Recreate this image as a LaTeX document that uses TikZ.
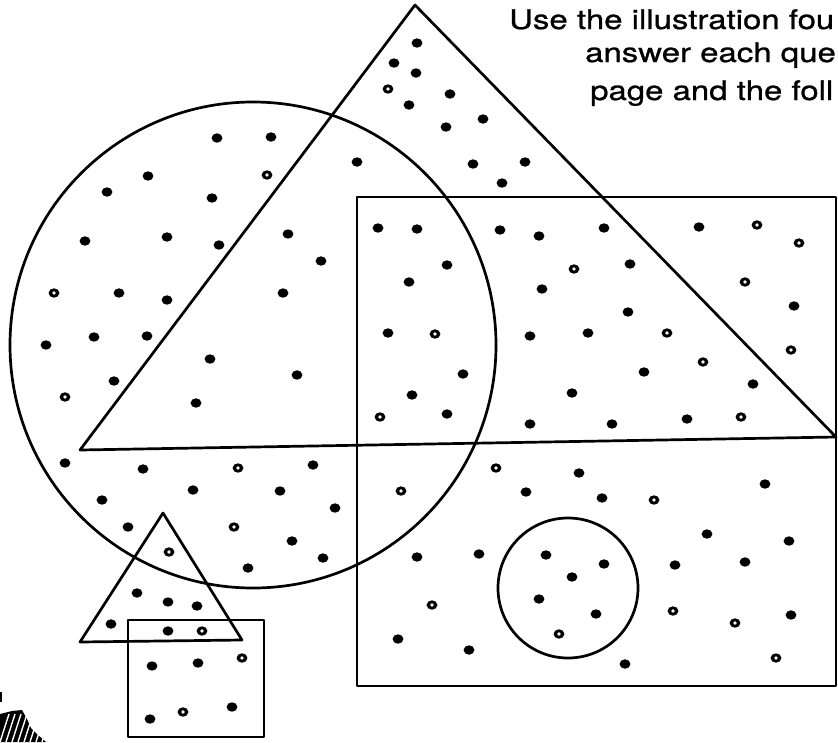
\documentclass[tikz,border=0pt]{standalone}
\usepackage{fontspec}
\setmainfont{TeX Gyre Heros}[FakeBold=0.8]
\usetikzlibrary{positioning}

\begin{document}
\begin{tikzpicture}[x=1pt, y=-1pt,
    outline/.style={draw=black, line width=2.7pt, line join=round},
    caption/.style={anchor=base west, inner sep=0pt, font=\fontsize{27}{30}\selectfont},
]
    \useasboundingbox (0,0) rectangle (838,742);
    \clip (0,0) rectangle (838,742);

    % Caption
    \node[caption] (line1) at (509,29) {\scalebox{1.22}[1]{Use the illustration fou}};
    \node[caption] (line2) at (585,62) {\scalebox{1.22}[1]{answer each que}};
    \node[caption] (line3) at (590,100) {\scalebox{1.22}[1]{page and the foll}};

    % Big shapes
    \coordinate (apex) at (415,5);
    \coordinate (baseL) at (80,450);
    \coordinate (baseR) at (836,437);
    \draw[outline] (apex) -- (baseL) -- (baseR) -- cycle;
    \draw[outline] (253,345) circle[radius=243pt];
    \draw[outline] (357,197) rectangle (836,686);
    \draw[outline] (568,588) circle[radius=70pt];

    % Small shapes
    \coordinate (sapex) at (163,513);
    \coordinate (sL) at (80,642);
    \coordinate (sR) at (242,640);
    \draw[outline] (sapex) -- (sL) -- (sR) -- cycle;
    \draw[outline] (128,620) rectangle (264,737);

    % Dots
    \foreach \x/\y in {417/43, 394/63, 416/73, 409/105, 450/94, 446/127, 483/119, 473/164, 525/162, 502/183,
        217/138, 271/137, 148/176, 357/162, 107/192, 212/198, 85/241, 167/237, 219/245, 288/234,
        378/228, 417/229, 500/230, 539/236, 604/228, 699/227,
        321/261, 409/282, 119/293, 167/300, 283/293, 46/345, 94/337, 147/336, 388/333, 210/359,
        297/375, 114/381, 196/403, 412/395,
        447/265, 630/264, 542/289, 794/306, 628/312, 530/336, 588/333, 463/374, 644/372, 572/393,
        753/384, 447/414, 530/424, 612/424, 687/419,
        65/463, 143/469, 313/465, 102/500, 193/490, 280/491, 335/508, 128/527, 292/541, 323/558,
        248/568, 417/557, 137/593, 168/602, 197/606, 111/624, 168/631, 152/666, 198/663, 398/639,
        150/719, 232/707,
        579/473, 526/492, 602/498, 765/484, 707/534, 789/541, 479/554, 546/555, 604/564, 572/577,
        675/565, 745/562, 539/599, 596/614, 791/615, 469/650, 625/664}
        \fill (\x,\y) ellipse[x radius=5.4pt, y radius=4.7pt];
    % Ring dots
    \foreach \x/\y in {388/89, 267/175, 54/293, 65/397, 380/417, 574/269, 745/282, 435/334, 667/333,
        791/350, 703/362, 741/417, 799/243, 757/225, 238/468, 401/491, 234/527, 169/552, 202/631,
        242/658, 183/712, 496/468, 654/500, 432/605, 673/611, 735/623, 559/634, 776/658}
    {
        \fill (\x,\y) ellipse[x radius=5.4pt, y radius=4.7pt];
        \fill[white] (\x,\y) circle[radius=1.8pt];
    }

    % Scrap in the corner
    \fill (0,714) -- (12,711) -- (22,710) -- (27,719) -- (31,728) -- (38,735) -- (46,742) -- (0,742) -- cycle;
    \foreach \s in {0,6,...,42}
        \draw[white, line width=1.4pt] (\s,742) -- (\s+9,714);
    \fill (0,692) rectangle (2,702);
\end{tikzpicture}
\end{document}
